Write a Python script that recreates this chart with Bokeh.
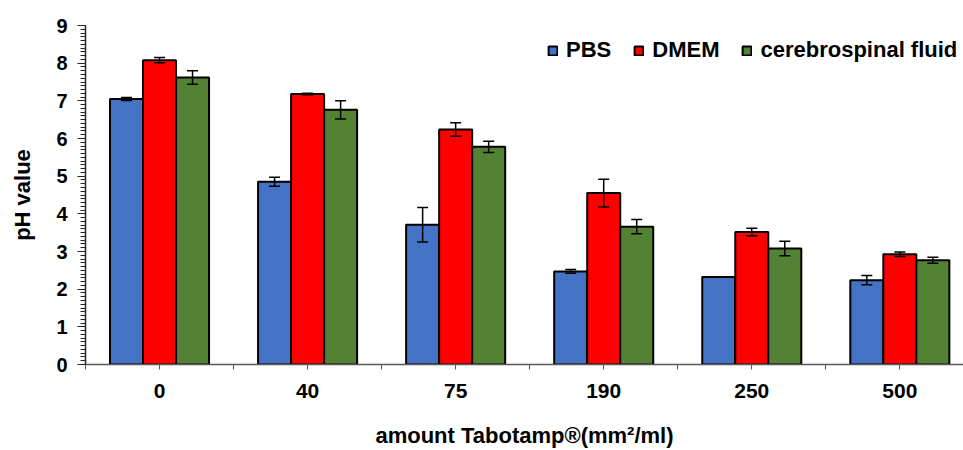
from bokeh.plotting import figure
from bokeh.models import (Range1d, FixedTicker, ColumnDataSource, Whisker, TeeHead,
                          Legend, LegendItem)
from bokeh.embed import file_html
from bokeh.resources import INLINE

groups = ["0", "40", "75", "190", "250", "500"]
series = ["PBS", "DMEM", "cerebrospinal fluid"]
pbs = [7.05, 4.85, 3.71, 2.47, 2.32, 2.24]
pbs_err = [0.04, 0.12, 0.46, 0.05, 0.0, 0.12]
dmem = [8.08, 7.18, 6.24, 4.55, 3.52, 2.93]
dmem_err = [0.07, 0.02, 0.18, 0.37, 0.10, 0.06]
csf = [7.62, 6.76, 5.78, 3.66, 3.08, 2.77]
csf_err = [0.18, 0.24, 0.15, 0.19, 0.19, 0.08]
y_ticks = list(range(0, 10))

colors = ["#4472C4", "#FF0000", "#548235"]
FONT = "Liberation Sans"

p = figure(width=963, height=450, output_backend="svg", toolbar_location=None,
           x_range=Range1d(0, 5.93), y_range=Range1d(0, 9),
           min_border_left=85, min_border_right=0, min_border_top=25,
           min_border_bottom=83)
p.outline_line_color = None
p.xgrid.visible = False
p.ygrid.visible = False
p.background_fill_color = "white"

bar_w = 0.223
offsets = [-bar_w, 0.0, bar_w]
renderers = []
for vals, errs, col, off in zip([pbs, dmem, csf], [pbs_err, dmem_err, csf_err], colors, offsets):
    xs = [i + 0.5 + off for i in range(len(groups))]
    src = ColumnDataSource(dict(x=xs, top=vals,
                                upper=[v + e for v, e in zip(vals, errs)],
                                lower=[v - e for v, e in zip(vals, errs)]))
    r = p.vbar(x="x", top="top", width=bar_w, bottom=0, source=src,
               fill_color=col, line_color="black", line_width=2)
    renderers.append(r)
    w = Whisker(base="x", upper="upper", lower="lower", source=src, dimension="height",
                line_color="black", line_width=1.5, level="overlay",
                upper_head=TeeHead(size=11, line_color="black", line_width=1.5),
                lower_head=TeeHead(size=11, line_color="black", line_width=1.5))
    p.add_layout(w)

# x axis
xa = p.xaxis[0]
xa.ticker = FixedTicker(ticks=[i + 0.5 for i in range(len(groups))],
                        minor_ticks=list(range(0, len(groups) + 1)))
xa.major_label_overrides = {i + 0.5: g for i, g in enumerate(groups)}
xa.major_tick_in = 0
xa.major_tick_out = 5
xa.minor_tick_in = 0
xa.minor_tick_out = 5
xa.axis_line_color = "#595959"
xa.major_tick_line_color = "#595959"
xa.minor_tick_line_color = "#595959"
xa.axis_line_width = 1.5
xa.major_label_text_font = FONT
xa.major_label_text_font_style = "bold"
xa.major_label_text_font_size = "21px"
xa.major_label_text_color = "black"
xa.major_label_standoff = 14
xa.axis_label = "amount Tabotamp\u00ae(mm\u00b2/ml)"
xa.axis_label_text_font = FONT
xa.axis_label_text_font_style = "bold"
xa.axis_label_text_font_size = "22px"
xa.axis_label_text_color = "black"
xa.axis_label_standoff = 22

# y axis
ya = p.yaxis[0]
ya.ticker = FixedTicker(ticks=y_ticks, minor_ticks=[k / 10 for k in range(0, 91)])
ya.major_tick_in = 0
ya.major_tick_out = 8
ya.minor_tick_in = 0
ya.minor_tick_out = 5
ya.axis_line_color = "#262626"
ya.major_tick_line_color = "#262626"
ya.minor_tick_line_color = "#262626"
ya.axis_line_width = 1.5
ya.major_label_text_font = FONT
ya.major_label_text_font_style = "bold"
ya.major_label_text_font_size = "20px"
ya.major_label_text_color = "black"
ya.major_label_standoff = 10
ya.axis_label = "pH value"
ya.axis_label_text_font = FONT
ya.axis_label_text_font_style = "bold"
ya.axis_label_text_font_size = "22px"
ya.axis_label_text_color = "black"
ya.axis_label_standoff = 18

legend = Legend(items=[LegendItem(label=s, renderers=[r]) for s, r in zip(series, renderers)],
                orientation="horizontal", location=(462, 301))
legend.label_text_font = FONT
legend.label_text_font_style = "bold"
legend.label_text_font_size = "22px"
legend.label_text_color = "black"
legend.label_standoff = 8
legend.glyph_width = 11
legend.glyph_height = 11
legend.spacing = 22
legend.padding = 0
legend.margin = 0
legend.border_line_color = None
legend.background_fill_alpha = 0
p.add_layout(legend)

open("out.html", "w").write(file_html(p, INLINE))
